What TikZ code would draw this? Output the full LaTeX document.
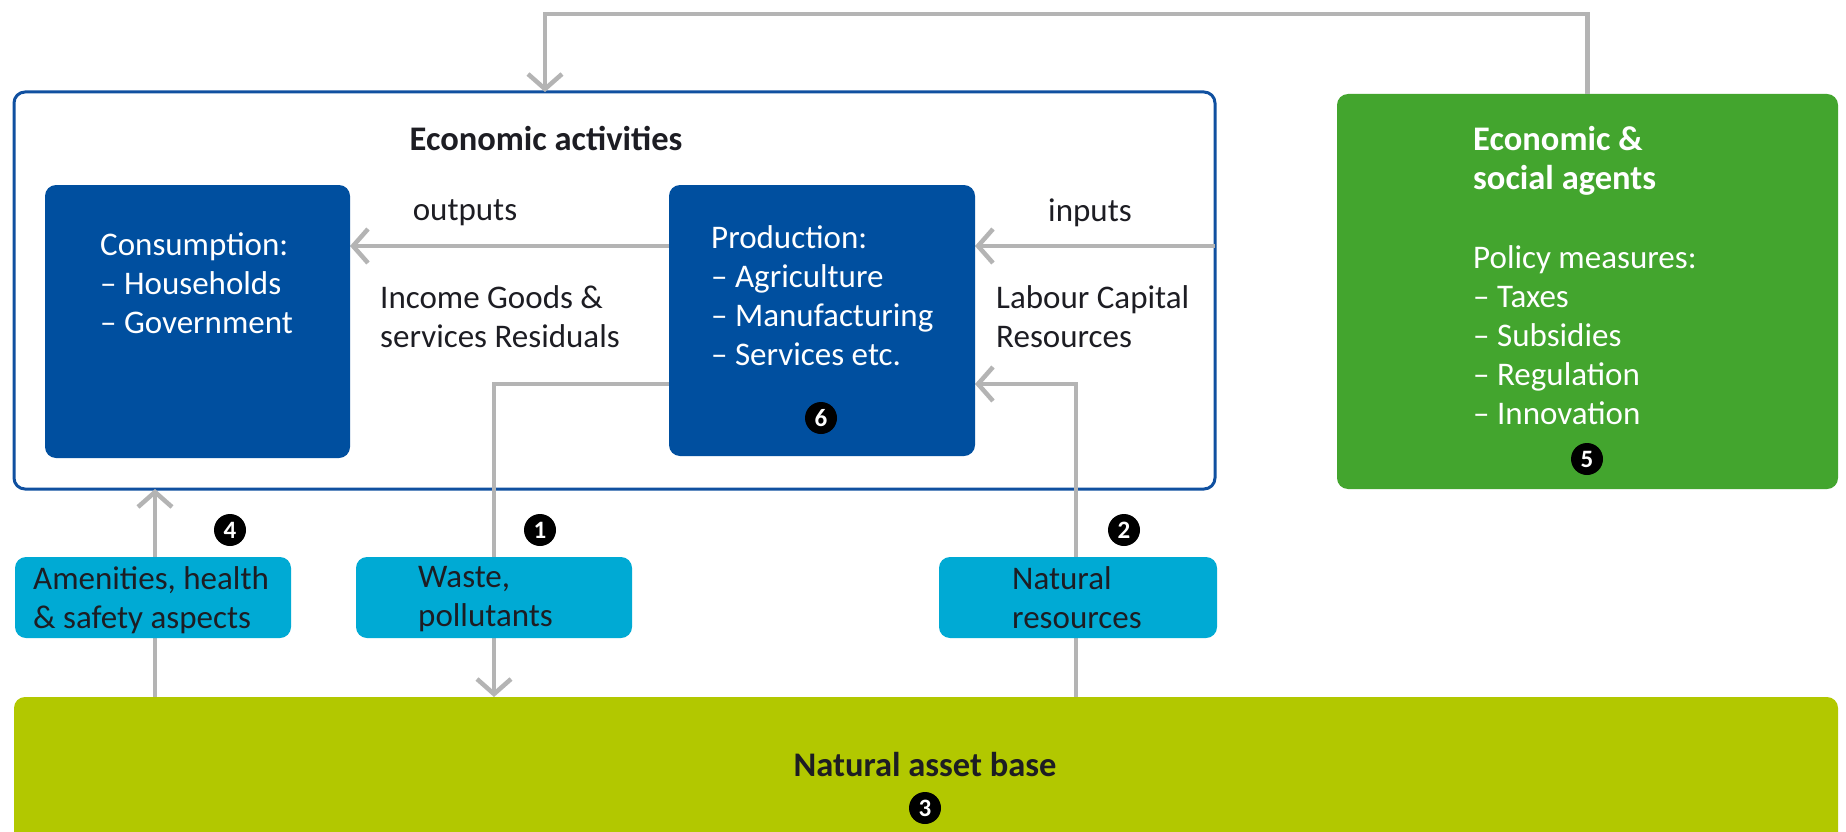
\documentclass[tikz,border=0pt]{standalone}
\usepackage{fontspec}
\setmainfont{Carlito}
\usetikzlibrary{arrows.meta,calc}
\definecolor{dblue}{RGB}{0,79,159}
\definecolor{eborder}{RGB}{16,80,160}
\definecolor{agreen}{RGB}{67,165,46}
\definecolor{acyan}{RGB}{0,170,212}
\definecolor{aolive}{RGB}{178,200,0}
\definecolor{agray}{RGB}{180,180,180}
\definecolor{tdark}{RGB}{29,29,35}
\begin{document}
\begin{tikzpicture}[x=1pt,y=-1pt,
  box/.style={rounded corners=11pt, inner sep=0pt, outer sep=0pt, anchor=north west},
  flow/.style={draw=agray, line width=4.5pt},
  arr/.style={flow, -{Straight Barb[length=15pt,width=34pt]}},
  txt/.style={inner sep=0pt, align=left, anchor=north west, text=tdark, font=\fontsize{33}{39}\selectfont},
  wtxt/.style={txt, text=white},
  bfont/.style={font=\bfseries\fontsize{34.5}{39}\selectfont},
  num/.style={circle, fill=black, text=white, inner sep=0pt, minimum size=32pt, font=\bfseries\fontsize{25}{25}\selectfont}]
\clip (0,0) rectangle (1846,832);
\fill[white] (0,0) rectangle (1846,832);
% economic activities frame
\node[box, draw=eborder, line width=3pt, fill=white, minimum width=1201pt, minimum height=397pt] (econ) at (14,92) {};
\node[inner sep=0pt, text=tdark, bfont] (econt) at (546,138) {Economic activities};
% other boxes as named nodes
\node[box, fill=aolive, minimum width=1824pt, minimum height=150pt] (base) at (14,697) {};
\node[box, fill=agreen, minimum width=501pt, minimum height=395pt] (agents) at (1337,94) {};
% connectors
\coordinate (fb) at (545,92);
\draw[arr] (agents.north) -- ($(agents.north)+(0,-80)$) -| (fb);
\draw[arr] ($(econ.north east)+(0,154)$) -- (975,246);
\draw[arr] (669,246) -- (350,246);
\draw[arr] (669,384) -| ($(base.north west)+(480,0)$);
\draw[arr] ($(base.north west)+(1062,0)$) |- (975,384);
\draw[arr] ($(base.north west)+(141,0)$) -- ($(econ.south west)+(141,0)$);
% inner boxes
\node[box, fill=dblue, minimum width=305pt, minimum height=273pt] (cons) at (45,185) {};
\node[box, fill=dblue, minimum width=306pt, minimum height=271pt] (prod) at (669,185) {};
\node[box, fill=acyan, minimum width=276pt, minimum height=81pt] (amen) at (15,557) {};
\node[box, fill=acyan, minimum width=276pt, minimum height=81pt] (waste) at (356,557) {};
\node[box, fill=acyan, minimum width=278pt, minimum height=81pt] (natres) at (939,557) {};
% texts
\node[wtxt] (const) at (100,232) {Consumption:\\– Households\\– Government};
\node[wtxt] (prodt) at (711,225) {Production:\\– Agriculture\\– Manufacturing\\– Services etc.};
\node[inner sep=0pt, text=tdark, font=\fontsize{33}{39}\selectfont] (outl) at (465,213) {outputs};
\node[inner sep=0pt, text=tdark, font=\fontsize{33}{39}\selectfont] (inl) at (1090,213) {inputs};
\node[txt] (incl) at (380,285) {Income Goods \&\\services Residuals};
\node[txt] (labl) at (996,285) {Labour Capital\\Resources};
\node[wtxt, bfont] (agt) at (1473,126) {Economic \&\\social agents};
\node[wtxt] (pol) at (1473,245) {Policy measures:\\– Taxes\\– Subsidies\\– Regulation\\– Innovation};
\node[txt] (amt) at (33,566) {Amenities, health\\\& safety aspects};
\node[txt] (wat) at (418,566) {Waste,\\pollutants};
\node[txt] (nrt) at (1012,566) {Natural\\resources};
\node[inner sep=0pt, text=tdark, bfont] (baset) at (925,765) {Natural asset base};
% numbers
\node[num] (n1) at (540,530) {1};
\node[num] (n2) at (1124,530) {2};
\node[num] (n3) at (925,808) {3};
\node[num] (n4) at (230,530) {4};
\node[num] (n5) at (1587,459) {5};
\node[num] (n6) at (821,418) {6};
\end{tikzpicture}
\end{document}
